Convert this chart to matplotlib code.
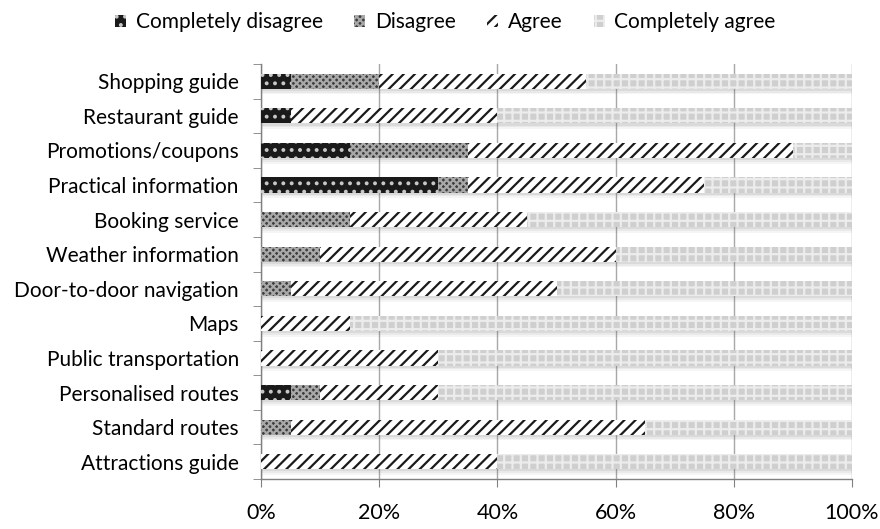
import matplotlib
matplotlib.use("Agg")
import matplotlib.pyplot as plt
import numpy as np

plt.rcParams['font.family'] = ['Lato', 'DejaVu Sans']
plt.rcParams['hatch.linewidth'] = 1.6

categories = [
    "Shopping guide", "Restaurant guide", "Promotions/coupons",
    "Practical information", "Booking service", "Weather information",
    "Door-to-door navigation", "Maps", "Public transportation",
    "Personalised routes", "Standard routes", "Attractions guide",
]
completely_disagree = [5, 5, 15, 30, 0, 0, 0, 0, 0, 5, 0, 0]
disagree            = [15, 0, 20, 5, 15, 10, 5, 0, 0, 5, 5, 0]
agree               = [35, 35, 55, 40, 30, 50, 45, 15, 30, 20, 60, 40]
completely_agree    = [45, 60, 10, 25, 55, 40, 50, 85, 70, 70, 35, 60]
tick_values = [0, 20, 40, 60, 80, 100]
tick_labels = ["0%", "20%", "40%", "60%", "80%", "100%"]

series = [
    ("Completely disagree", completely_disagree,
     dict(facecolor="#1a1a1a", edgecolor="#c8c8c8", hatch="..")),
    ("Disagree", disagree,
     dict(facecolor="#3c3c3c", edgecolor="#a8a8a8", hatch="xxxxx")),
    ("Agree", agree,
     dict(facecolor="white", edgecolor="#1a1a1a", hatch="///")),
    ("Completely agree", completely_agree,
     dict(facecolor="#cfcfcf", edgecolor="#ececec", hatch="++")),
]

fig = plt.figure(figsize=(8.8, 5.29), dpi=100)
ax = fig.add_axes([261 / 880, 1 - 479 / 529, (852 - 261) / 880, (479 - 64) / 529])

y = np.arange(len(categories))[::-1]
height = 0.44

# soft drop shadow under every bar
totals = np.sum([completely_disagree, disagree, agree, completely_agree], axis=0)
for k, a in enumerate([0.10, 0.08, 0.06]):
    off = 0.06 + 0.05 * k
    ax.barh(y - off, totals, left=0, height=height, color="#606060",
            alpha=a, linewidth=0, zorder=1)

left = np.zeros(len(categories))
for name, vals, style in series:
    vals = np.array(vals, dtype=float)
    ax.barh(y, vals, left=left, height=height, linewidth=0, label=name,
            zorder=3, **style)
    left += vals

ax.set_xlim(0, 100)
ax.set_ylim(-0.5, len(categories) - 0.5)
ax.set_yticks(y)
ax.set_yticklabels(categories, fontsize=15)
ax.tick_params(axis='y', length=0, pad=16)
ax.set_yticks(np.arange(len(categories) + 1) - 0.5, minor=True)
ax.tick_params(axis='y', which='minor', length=6, color="#808080", direction='out')

ax.set_xticks(tick_values)
ax.set_xticklabels(tick_labels, fontsize=15.5)
ax.tick_params(axis='x', length=6, color="#808080", pad=11, direction='out')
ax.xaxis.grid(True, color="#a8a8a8", linewidth=1)
ax.set_axisbelow(True)

for side in ("top", "right"):
    ax.spines[side].set_visible(False)
for side in ("left", "bottom"):
    ax.spines[side].set_color("#808080")
    ax.spines[side].set_linewidth(1)

fig.legend(loc="upper center", bbox_to_anchor=(0.506, 1.012), ncol=4,
           frameon=False, fontsize=15, handlelength=0.55, handleheight=0.55,
           handletextpad=0.45, columnspacing=1.5)

fig.savefig("out.png", dpi=100)
